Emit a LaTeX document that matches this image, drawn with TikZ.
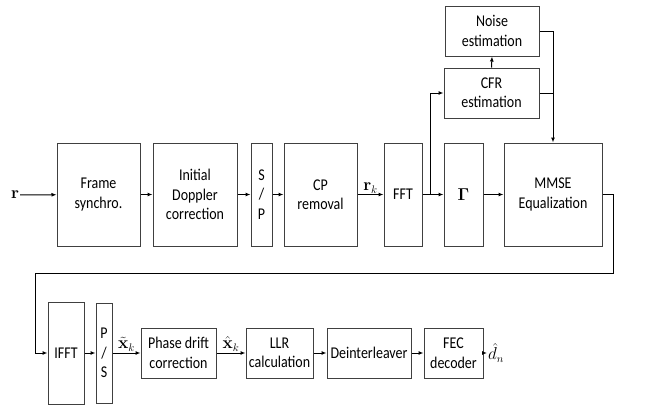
\documentclass[tikz,border=0pt]{standalone}
\usepackage{amsmath,amssymb}
\usepackage[no-math]{fontspec}
\setmainfont{Carlito}[FakeStretch=0.85]
\usetikzlibrary{arrows.meta,positioning,calc}

\begin{document}
\begin{tikzpicture}[
    x=1bp, y=-1bp,
    >={Latex[length=5bp,width=4bp]},
    blk/.style={draw=black!75, line width=1bp, rectangle, align=center, inner sep=0pt,
                font=\fontsize{16.5}{19.5}\selectfont},
    sig/.style={->, line width=1bp},
    wire/.style={line width=1bp},
    lbl/.style={font=\fontsize{16}{19}\selectfont, inner sep=1bp}
]
\useasboundingbox (0,0) rectangle (662,405);

% Receiver chain, first row
\node[lbl] (r) at (15,195) {$\mathbf{r}$};
\node[blk, minimum width=83bp, minimum height=103bp] (frame) at (98.5,194.5) {Frame\\synchro.};
\node[blk, minimum width=84bp, minimum height=103bp] (dopp) at (195,194.5) {Initial\\Doppler\\correction};
\node[blk, minimum width=21bp, minimum height=103bp] (sp) at (261.5,194.5) {S\\/\\P};
\node[blk, minimum width=73bp, minimum height=103bp] (cp) at (320.5,194.5) {CP\\removal};
\node[blk, minimum width=38bp, minimum height=103bp] (fft) at (403,194.5) {FFT};
\node[blk, minimum width=39bp, minimum height=103bp] (gamma) at (463.5,194.5) {$\mathbf{\Gamma}$};
\node[blk, minimum width=98bp, minimum height=103bp] (mmse) at (553,194.5) {MMSE\\Equalization};

% Channel estimation branch
\node[blk, minimum width=95bp, minimum height=50bp] (cfr) at (491.5,93) {CFR\\estimation};
\node[blk, minimum width=94bp, minimum height=50bp] (noise) at (492,31) {Noise\\estimation};

% Second row
\node[blk, minimum width=36bp, minimum height=102bp] (ifft) at (66,353) {IFFT};
\node[blk, minimum width=16bp, minimum height=100bp] (ps) at (104,353) {P\\/\\S};
\node[blk, minimum width=75bp, minimum height=50bp] (phase) at (178.5,353) {Phase drift\\correction};
\node[blk, minimum width=67bp, minimum height=50bp] (llr) at (279.5,353) {LLR\\calculation};
\node[blk, minimum width=84bp, minimum height=50bp] (deint) at (369,353) {Deinterleaver};
\node[blk, minimum width=59bp, minimum height=50bp] (fec) at (453.5,353) {FEC\\decoder};
\node[lbl, anchor=west] (dn) at (487,353) {$\hat{d}_n$};

% Connectors
\draw[sig] (r) -- (frame);
\draw[sig] (frame) -- (dopp);
\draw[sig] (dopp) -- (sp);
\draw[sig] (sp) -- (cp);
\draw[sig] (cp) -- node[lbl, above] {$\mathbf{r}_k$} (fft);
\draw[sig] (fft) -- (gamma);
\draw[sig] (gamma) -- (mmse);

\coordinate (branch) at ($(fft.east)+(8,0)$);
\draw[sig] (branch) |- (cfr.west);
\draw[sig] (cfr.north) -- (noise.south);
\draw[sig] (noise.east) -| (mmse.north);
\draw[wire] (cfr.east) -- (cfr.east -| mmse.north);

% Wrap-around to the second row
\coordinate (wrapR) at (613,273);
\coordinate (wrapL) at (35,273);
\draw[sig] (mmse.east) -| (wrapR) -- (wrapL) |- (ifft.west);

\draw[sig] (ifft) -- (ps);
\draw[sig] (ps) -- node[lbl, above] {$\tilde{\mathbf{x}}_k$} (phase);
\draw[sig] (phase) -- node[lbl, above] {$\hat{\mathbf{x}}_k$} (llr);
\draw[sig] (llr) -- (deint);
\draw[sig] (deint) -- (fec);
\draw[sig] (fec) -- (dn);

\end{tikzpicture}
\end{document}
